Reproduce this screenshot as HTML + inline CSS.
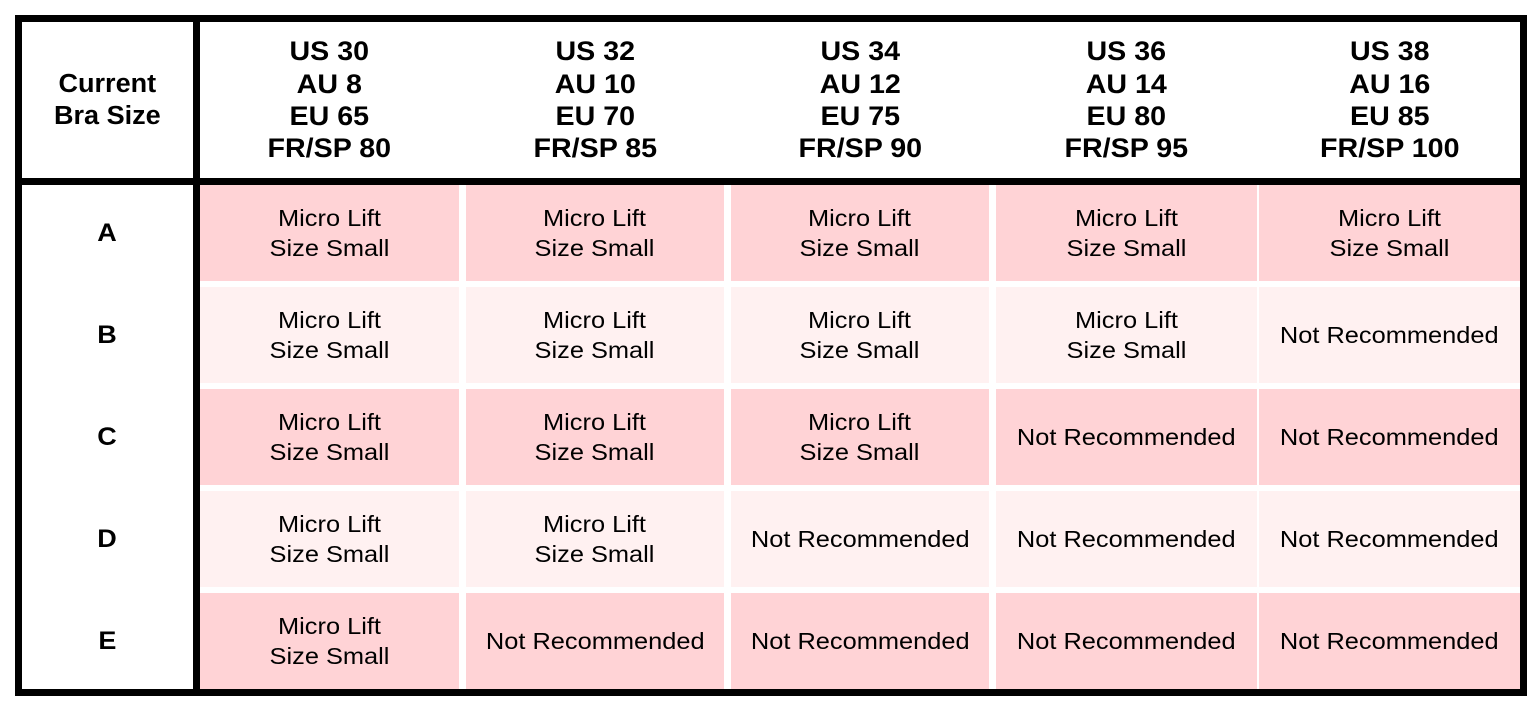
<!DOCTYPE html>
<html>
<head>
<meta charset="utf-8">
<style>
  html, body { margin: 0; padding: 0; background: #ffffff; }
  body { width: 1539px; height: 713px; position: relative; overflow: hidden;
         font-family: "Liberation Sans", Arial, sans-serif; color: #000; }
  .blk { position: absolute; background: #000; }
  .cell { position: absolute; display: flex; align-items: center; justify-content: center; text-align: center; }
  .cell span { display: inline-block; }
  .hd span { font-weight: bold; font-size: 27px; line-height: 32.3px; transform: scaleX(1.06); }
  .lab span { font-weight: bold; font-size: 25.5px; line-height: 32.4px; transform: scaleX(1.06); }
  .rl span { font-weight: bold; font-size: 25px; transform: scaleX(1.08); }
  .d span { font-size: 23.5px; line-height: 30.5px; transform: scaleX(1.08); }
  .dk { background: #ffd3d6; }
  .lt { background: #fff1f1; }
</style>
</head>
<body>
  <!-- outer border -->
  <div class="blk" style="left:15px; top:15px; width:1512px; height:7px;"></div>
  <div class="blk" style="left:15px; top:689px; width:1512px; height:7px;"></div>
  <div class="blk" style="left:15px; top:15px; width:7px; height:681px;"></div>
  <div class="blk" style="left:1520px; top:15px; width:7px; height:681px;"></div>
  <!-- separators -->
  <div class="blk" style="left:193px; top:15px; width:7px; height:681px;"></div>
  <div class="blk" style="left:15px; top:178px; width:1512px; height:7px;"></div>

  <!-- header -->
  <div class="cell lab" style="left:22px; top:22px; width:171px; height:156px;"><span>Current<br>Bra Size</span></div>
  <div class="cell hd" style="left:200px; top:22px; width:259px; height:156px;"><span>US 30<br>AU 8<br>EU 65<br>FR/SP 80</span></div>
  <div class="cell hd" style="left:466px; top:22px; width:258px; height:156px;"><span>US 32<br>AU 10<br>EU 70<br>FR/SP 85</span></div>
  <div class="cell hd" style="left:731px; top:22px; width:258px; height:156px;"><span>US 34<br>AU 12<br>EU 75<br>FR/SP 90</span></div>
  <div class="cell hd" style="left:996px; top:22px; width:261px; height:156px;"><span>US 36<br>AU 14<br>EU 80<br>FR/SP 95</span></div>
  <div class="cell hd" style="left:1259px; top:22px; width:261px; height:156px;"><span>US 38<br>AU 16<br>EU 85<br>FR/SP 100</span></div>

  <!-- row labels -->
  <div class="cell rl" style="left:22px; top:185px; width:171px; height:96px;"><span>A</span></div>
  <div class="cell rl" style="left:22px; top:287px; width:171px; height:96px;"><span>B</span></div>
  <div class="cell rl" style="left:22px; top:389px; width:171px; height:96px;"><span>C</span></div>
  <div class="cell rl" style="left:22px; top:491px; width:171px; height:96px;"><span>D</span></div>
  <div class="cell rl" style="left:22px; top:593px; width:171px; height:96px;"><span>E</span></div>

  <!-- Row A -->
  <div class="cell d dk" style="left:200px; top:185px; width:259px; height:96px;"><span>Micro Lift<br>Size Small</span></div>
  <div class="cell d dk" style="left:466px; top:185px; width:258px; height:96px;"><span>Micro Lift<br>Size Small</span></div>
  <div class="cell d dk" style="left:731px; top:185px; width:258px; height:96px;"><span>Micro Lift<br>Size Small</span></div>
  <div class="cell d dk" style="left:996px; top:185px; width:261px; height:96px;"><span>Micro Lift<br>Size Small</span></div>
  <div class="cell d dk" style="left:1259px; top:185px; width:261px; height:96px;"><span>Micro Lift<br>Size Small</span></div>

  <!-- Row B -->
  <div class="cell d lt" style="left:200px; top:287px; width:259px; height:96px;"><span>Micro Lift<br>Size Small</span></div>
  <div class="cell d lt" style="left:466px; top:287px; width:258px; height:96px;"><span>Micro Lift<br>Size Small</span></div>
  <div class="cell d lt" style="left:731px; top:287px; width:258px; height:96px;"><span>Micro Lift<br>Size Small</span></div>
  <div class="cell d lt" style="left:996px; top:287px; width:261px; height:96px;"><span>Micro Lift<br>Size Small</span></div>
  <div class="cell d lt" style="left:1259px; top:287px; width:261px; height:96px;"><span>Not Recommended</span></div>

  <!-- Row C -->
  <div class="cell d dk" style="left:200px; top:389px; width:259px; height:96px;"><span>Micro Lift<br>Size Small</span></div>
  <div class="cell d dk" style="left:466px; top:389px; width:258px; height:96px;"><span>Micro Lift<br>Size Small</span></div>
  <div class="cell d dk" style="left:731px; top:389px; width:258px; height:96px;"><span>Micro Lift<br>Size Small</span></div>
  <div class="cell d dk" style="left:996px; top:389px; width:261px; height:96px;"><span>Not Recommended</span></div>
  <div class="cell d dk" style="left:1259px; top:389px; width:261px; height:96px;"><span>Not Recommended</span></div>

  <!-- Row D -->
  <div class="cell d lt" style="left:200px; top:491px; width:259px; height:96px;"><span>Micro Lift<br>Size Small</span></div>
  <div class="cell d lt" style="left:466px; top:491px; width:258px; height:96px;"><span>Micro Lift<br>Size Small</span></div>
  <div class="cell d lt" style="left:731px; top:491px; width:258px; height:96px;"><span>Not Recommended</span></div>
  <div class="cell d lt" style="left:996px; top:491px; width:261px; height:96px;"><span>Not Recommended</span></div>
  <div class="cell d lt" style="left:1259px; top:491px; width:261px; height:96px;"><span>Not Recommended</span></div>

  <!-- Row E -->
  <div class="cell d dk" style="left:200px; top:593px; width:259px; height:96px;"><span>Micro Lift<br>Size Small</span></div>
  <div class="cell d dk" style="left:466px; top:593px; width:258px; height:96px;"><span>Not Recommended</span></div>
  <div class="cell d dk" style="left:731px; top:593px; width:258px; height:96px;"><span>Not Recommended</span></div>
  <div class="cell d dk" style="left:996px; top:593px; width:261px; height:96px;"><span>Not Recommended</span></div>
  <div class="cell d dk" style="left:1259px; top:593px; width:261px; height:96px;"><span>Not Recommended</span></div>
</body>
</html>
